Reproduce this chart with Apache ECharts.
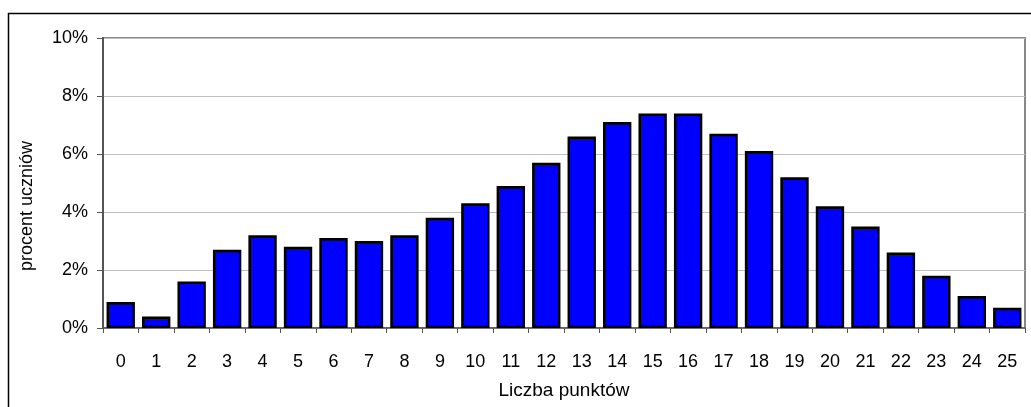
<!DOCTYPE html>
<html>
<head>
<meta charset="utf-8">
<script src="https://cdn.jsdelivr.net/npm/echarts@6/dist/echarts.min.js"></script>
<style>
    html, body { margin: 0; padding: 0; background: #fff; }
    #chart { width: 1031px; height: 407px; }
</style>
</head>
<body>
<div id="chart"></div>
<script>
const categories = ['0', '1', '2', '3', '4', '5', '6', '7', '8', '9', '10', '11', '12',
    '13', '14', '15', '16', '17', '18', '19', '20', '21', '22', '23', '24', '25'];
const percentValues = [0.9, 0.4, 1.6, 2.7, 3.2, 2.8, 3.1, 3.0, 3.2, 3.8, 4.3, 4.9, 5.7,
    6.6, 7.1, 7.4, 7.4, 6.7, 6.1, 5.2, 4.2, 3.5, 2.6, 1.8, 1.1, 0.7];
const yTicks = [0, 2, 4, 6, 8, 10];

const chart = echarts.init(document.getElementById('chart'), null, { renderer: 'canvas' });
const font = 'Liberation Sans, Arial, sans-serif';

chart.setOption({
    animation: false,
    backgroundColor: '#fff',
    graphic: [{
        type: 'rect',
        silent: true,
        shape: { x: 8.5, y: 13.5, width: 1100, height: 500 },
        style: { fill: 'none', stroke: '#000', lineWidth: 1.5 },
    }],
    grid: {
        left: 103,
        right: 6,
        top: 38,
        bottom: 79,
        show: true,
        borderColor: '#888',
        borderWidth: 2,
    },
    xAxis: {
        type: 'category',
        data: categories,
        name: 'Liczba punktów',
        nameLocation: 'middle',
        nameGap: 53,
        nameTextStyle: { fontFamily: font, fontSize: 19, color: '#000' },
        axisLine: { lineStyle: { color: '#555', width: 1.5 } },
        axisTick: { show: true, length: 5, lineStyle: { color: '#555' } },
        axisLabel: { fontFamily: font, fontSize: 18, color: '#000', margin: 25, interval: 0 },
    },
    yAxis: {
        type: 'value',
        min: yTicks[0],
        max: yTicks[yTicks.length - 1],
        interval: 2,
        name: 'procent uczniów',
        nameLocation: 'middle',
        nameGap: 67,
        nameTextStyle: {
            fontFamily: font,
            fontSize: 18,
            color: '#000',
            padding: [0, 46, 0, 0],
        },
        axisLine: { show: true, lineStyle: { color: '#555', width: 2 } },
        axisTick: { show: true, length: 6, lineStyle: { color: '#555' } },
        axisLabel: {
            fontFamily: font,
            fontSize: 18,
            color: '#000',
            margin: 15,
            formatter: (value) => value + '%',
        },
        splitLine: { lineStyle: { color: '#c0c0c0', width: 1 } },
    },
    series: [{
        type: 'bar',
        data: percentValues,
        barCategoryGap: '20%',
        itemStyle: {
            color: '#0000ff',
            borderColor: '#000',
            borderWidth: 2.5,
        },
    }],
});
</script>
</body>
</html>
